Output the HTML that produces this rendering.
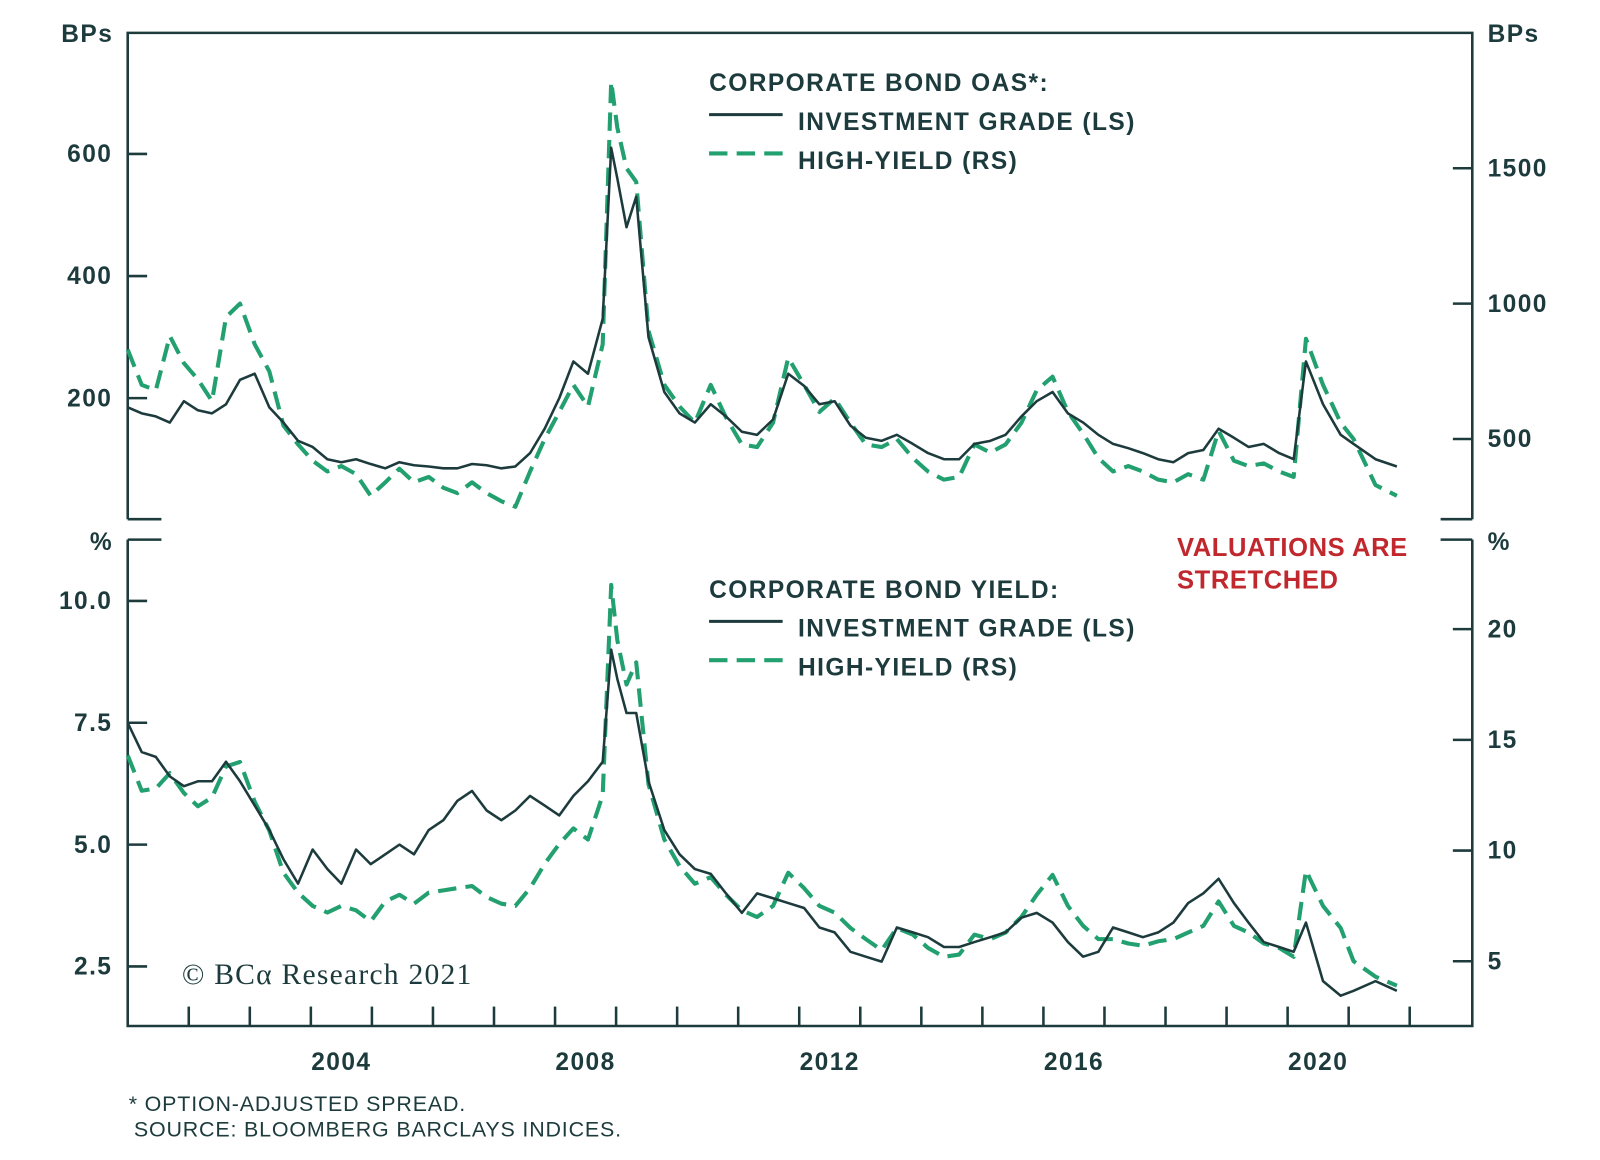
<!DOCTYPE html>
<html><head><meta charset="utf-8"><style>
body{margin:0;background:#fff;}
svg{display:block;font-family:"Liberation Sans",sans-serif;}
.t{fill:#1d3b3d;font-weight:bold;font-size:24px;letter-spacing:1.4px;}
</style></head><body>
<svg id="chart" width="1600" height="1160" viewBox="0 0 1566 1135">
<rect width="1566" height="1135" fill="#fff"/>
<g id="frame" stroke="#1d3b3d" stroke-width="2.5" fill="none">
<path d="M125,508 V32 H1441 V508"/>
<path d="M125,508 H158 M1410,508 H1441"/>
<path d="M125,528 V1004 H1441 V528"/>
<path d="M125,528 H158 M1410,528 H1441"/>
</g>
<g id="axes"></g>
<g id="series"></g>
<text class="t" x="60" y="41">BPs</text>
<text class="t" x="1456" y="41">BPs</text>
<text class="t" x="88" y="538">%</text>
<text class="t" x="1456" y="538">%</text>
<g>
<text class="t" x="694" y="89">CORPORATE BOND OAS*:</text>
<line x1="694" y1="112" x2="766" y2="112" stroke="#1d3b3d" stroke-width="3"/>
<text class="t" x="781" y="127">INVESTMENT GRADE (LS)</text>
<line x1="694" y1="150" x2="766" y2="150" stroke="#22a06f" stroke-width="4" stroke-dasharray="18,9"/>
<text class="t" x="781" y="165">HIGH-YIELD (RS)</text>
</g>
<g>
<text class="t" x="694" y="585">CORPORATE BOND YIELD:</text>
<line x1="694" y1="608" x2="766" y2="608" stroke="#1d3b3d" stroke-width="3"/>
<text class="t" x="781" y="623">INVESTMENT GRADE (LS)</text>
<line x1="694" y1="646" x2="766" y2="646" stroke="#22a06f" stroke-width="4" stroke-dasharray="18,9"/>
<text class="t" x="781" y="661">HIGH-YIELD (RS)</text>
</g>
<text x="1152" y="544" fill="#c0282d" font-weight="bold" font-size="25" letter-spacing="0.6">VALUATIONS ARE</text>
<text x="1152" y="576" fill="#c0282d" font-weight="bold" font-size="25" letter-spacing="0.6">STRETCHED</text>
<text x="178" y="963" fill="#1d3b3d" font-family="Liberation Serif,serif" font-size="29" letter-spacing="1.2">© BCα Research 2021</text>
<text x="126" y="1087" fill="#1d3b3d" font-size="21" letter-spacing="0.8">* OPTION-ADJUSTED SPREAD.</text>
<text x="131" y="1112" fill="#1d3b3d" font-size="21" letter-spacing="0.8">SOURCE: BLOOMBERG BARCLAYS INDICES.</text>
</svg>
<script>
const dates=[2001.0,2001.23,2001.46,2001.69,2001.92,2002.15,2002.38,2002.61,2002.84,2003.08,2003.32,2003.55,2003.79,2004.03,2004.27,2004.5,2004.74,2004.98,2005.22,2005.45,2005.69,2005.93,2006.17,2006.4,2006.64,2006.88,2007.12,2007.35,2007.59,2007.83,2008.07,2008.3,2008.54,2008.78,2008.92,2009.02,2009.17,2009.33,2009.53,2009.79,2010.04,2010.29,2010.55,2010.8,2011.06,2011.31,2011.57,2011.82,2012.08,2012.33,2012.58,2012.84,2013.09,2013.35,2013.6,2013.86,2014.11,2014.37,2014.62,2014.87,2015.13,2015.38,2015.64,2015.89,2016.15,2016.4,2016.65,2016.9,2017.14,2017.39,2017.63,2017.88,2018.13,2018.37,2018.62,2018.87,2019.12,2019.36,2019.61,2019.86,2020.1,2020.3,2020.58,2020.87,2021.08,2021.44,2021.79];
const igOas=[185,175,170,160,195,180,175,190,230,240,185,160,130,120,100,95,100,92,85,95,90,88,85,85,92,90,85,88,110,150,200,260,240,330,610,560,480,530,300,210,175,160,190,170,145,140,165,240,220,190,195,155,135,130,140,125,110,100,100,125,130,140,170,195,210,175,160,140,125,118,110,100,95,110,115,150,135,120,125,110,100,260,190,140,125,100,88];
const hyOas=[830,700,680,880,780,720,640,950,1000,850,750,550,480,420,380,400,370,290,340,390,340,360,320,300,340,300,270,250,380,500,600,700,620,850,1820,1650,1500,1450,900,700,620,560,700,580,480,470,560,800,700,600,650,560,480,470,500,430,380,350,360,480,450,480,560,680,730,600,520,430,380,400,380,350,340,370,350,530,420,400,410,380,360,870,700,560,500,330,290];
const igYld=[7.5,6.9,6.8,6.4,6.2,6.3,6.3,6.7,6.3,5.8,5.3,4.7,4.2,4.9,4.5,4.2,4.9,4.6,4.8,5.0,4.8,5.3,5.5,5.9,6.1,5.7,5.5,5.7,6.0,5.8,5.6,6.0,6.3,6.7,9.0,8.4,7.7,7.7,6.3,5.3,4.8,4.5,4.4,4.0,3.6,4.0,3.9,3.8,3.7,3.3,3.2,2.8,2.7,2.6,3.3,3.2,3.1,2.9,2.9,3.0,3.1,3.2,3.5,3.6,3.4,3.0,2.7,2.8,3.3,3.2,3.1,3.2,3.4,3.8,4.0,4.3,3.8,3.4,3.0,2.9,2.8,3.4,2.2,1.9,2.0,2.2,2.0];
const hyYld=[14.3,12.7,12.8,13.5,12.6,12.0,12.4,13.8,14.0,12.2,10.9,9.0,8.1,7.5,7.2,7.5,7.3,6.8,7.7,8.0,7.6,8.1,8.2,8.3,8.4,7.9,7.6,7.5,8.3,9.4,10.3,11.0,10.5,12.5,22.0,19.5,17.5,18.5,13.0,10.5,9.3,8.5,8.8,8.0,7.3,7.0,7.5,9.0,8.3,7.5,7.2,6.5,6.0,5.5,6.5,6.2,5.6,5.2,5.3,6.2,6.0,6.3,7.0,8.0,8.9,7.5,6.6,6.0,6.0,5.8,5.7,5.9,6.0,6.3,6.6,7.7,6.6,6.3,5.8,5.6,5.2,9.1,7.5,6.5,5.0,4.3,3.9];
const xTickYears=[2002,2003,2004,2005,2006,2007,2008,2009,2010,2011,2012,2013,2014,2015,2016,2017,2018,2019,2020,2021,2022];
const xLabelYears=[2004,2008,2012,2016,2020];
const topLeftTicks=[200,400,600];
const topRightTicks=[500,1000,1500];
const botLeftTicks=[2.5,5.0,7.5,10.0];
const botRightTicks=[5,10,15,20];

const NS="http://www.w3.org/2000/svg";
const X=d=>125+(d-2001)*59.75;
const yTL=v=>509-v*0.5975;
const yTR=v=>562-v*0.265;
const yBL=v=>1065-v*47.7;
const yBR=v=>1049-v*21.67;
function mk(tag,attrs,parent){const e=document.createElementNS(NS,tag);for(const k in attrs)e.setAttribute(k,attrs[k]);parent.appendChild(e);return e;}
const axes=document.getElementById('axes');
const ser=document.getElementById('series');
const C="#1d3b3d";
xTickYears.forEach(y=>{const l=mk('line',{x1:X(y),x2:X(y),y1:985,y2:1004,stroke:C,'stroke-width':2.5},axes);

});
xLabelYears.forEach(y=>{const t=mk('text',{x:X(y+0.5),y:1047,'text-anchor':'middle',class:'t'},axes);t.textContent=y;

});
function yAxis(ticks,fn,side,fmt){ticks.forEach(v=>{const y=fn(v);
const x1=side==='L'?125:1422,x2=side==='L'?144:1441;
const l=mk('line',{x1:x1,x2:x2,y1:y,y2:y,stroke:C,'stroke-width':2.5},axes);


const t=mk('text',{x:side==='L'?110:1456,y:y+8,'text-anchor':side==='L'?'end':'start',class:'t'},axes);t.textContent=fmt(v);

});}
yAxis(topLeftTicks,yTL,'L',v=>v);
yAxis(topRightTicks,yTR,'R',v=>v);
yAxis(botLeftTicks,yBL,'L',v=>v.toFixed(1));
yAxis(botRightTicks,yBR,'R',v=>v);
function line(vals,fn,dashed,name){const d=vals.map((v,i)=>(i?'L':'M')+X(dates[i]).toFixed(1)+','+fn(v).toFixed(1)).join(' ');
const p=mk('path',{d:d,fill:'none',stroke:dashed?'#22a06f':C,'stroke-width':dashed?4:2.5,'stroke-dasharray':dashed?'18,9':'none','stroke-linejoin':'round'},ser);

}
line(hyOas,yTR,true,'hy-oas-line');
line(igOas,yTL,false,'ig-oas-line');
line(hyYld,yBR,true,'hy-yield-line');
line(igYld,yBL,false,'ig-yield-line');
</script>
</body></html>
